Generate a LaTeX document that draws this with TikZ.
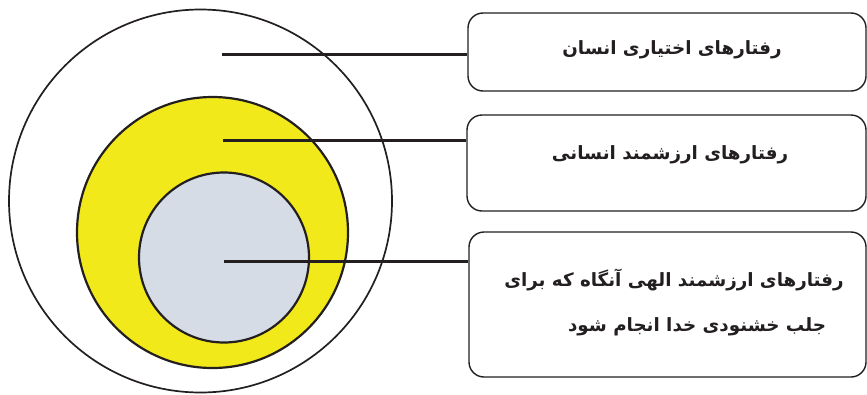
\documentclass[tikz,border=0pt]{standalone}
\usepackage{fontspec}
\newfontfamily\fafont[Script=Arabic]{DejaVu Sans}
\TeXXeTstate=1
\definecolor{ink}{HTML}{231F20}
\definecolor{ringyellow}{HTML}{F1E91A}
\definecolor{coregray}{HTML}{D6DCE6}
\begin{document}
\begin{tikzpicture}[x=1pt,y=-1pt,
  ring/.style={circle,draw=ink,inner sep=0pt},
  labelbox/.style={draw=ink,line width=1.4pt,rounded corners=15pt},
  leader/.style={draw=ink,line width=3pt},
  txt/.style={text=ink,font=\fafont\bfseries\fontsize{18.3}{22}\selectfont,inner sep=0pt,anchor=center}]
\useasboundingbox (0,0) rectangle (867,394);
% circles
\node[ring,line width=1.7pt,minimum size=383pt] (outer) at (200.5,201) {};
\node[ring,line width=2.2pt,fill=ringyellow,minimum size=271pt] (mid) at (212.5,232.5) {};
\node[ring,line width=2.2pt,fill=coregray,minimum size=170pt] (core) at (224,257.5) {};
% boxes
\node[labelbox,minimum width=398pt,minimum height=78pt] (b1) at (667,52) {};
\node[labelbox,minimum width=399pt,minimum height=96pt] (b2) at (666.5,163) {};
\node[labelbox,minimum width=397pt,minimum height=145pt] (b3) at (667.5,304.5) {};
% texts
\node[txt] (t1) at (672,50) {\beginR رفتارهای اختیاری انسان\endR};
\node[txt] (t2) at (670,155) {\beginR رفتارهای ارزشمند انسانی\endR};
\node[txt] (t3a) at (674,280) {\beginR رفتارهای ارزشمند الهی آنگاه که برای\endR};
\node[txt] (t3b) at (697,327) {\beginR جلب خشنودی خدا انجام شود\endR};
% leaders
\coordinate (p1) at (222,54.5);
\coordinate (p2) at (223,140);
\coordinate (p3) at (224,261.5);
\draw[leader] (p1) -- (p1 -| b1.west);
\draw[leader] (p2) -- (p2 -| b2.west);
\draw[leader] (p3) -- (p3 -| b3.west);
\end{tikzpicture}
\end{document}
